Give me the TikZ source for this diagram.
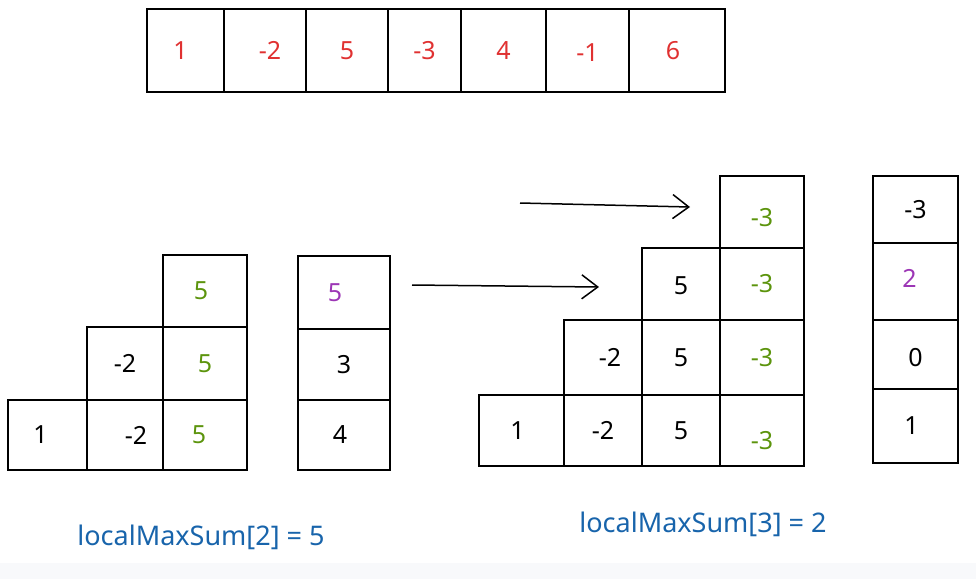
\documentclass[tikz,border=0pt]{standalone}
\usepackage{fontspec}
\setmainfont{Noto Sans}
\usetikzlibrary{arrows.meta}
\definecolor{cred}{HTML}{E03131}
\definecolor{cgreen}{HTML}{5C940D}
\definecolor{cpurple}{HTML}{9C36B5}
\definecolor{cblue}{HTML}{1864AB}
\definecolor{cstrip}{HTML}{F8F9FB}
\newcommand{\mycell}[7]{%
  \node[cell, minimum width={(#4-#2)*1pt}, minimum height={(#5-#3)*1pt}, text=#7]
    (#1) at ({(#2+#4)/2},{(#3+#5)/2}) {#6};}
\newcommand{\lowr}[2]{\raisebox{-#1pt}[\height][\depth]{#2}}
\tikzset{
  cell/.style={draw=black, line width=1.5pt, inner sep=0pt, font=\fontsize{25}{27}\selectfont},
  arr/.style={line width=1.5pt, -{Straight Barb[length=16pt,width=24pt,line width=1.5pt]}},
  lbl/.style={text=cblue, font=\fontsize{27}{29}\selectfont, inner sep=0pt}
}
\begin{document}
\begin{tikzpicture}[x=1pt,y=-1pt]
\path[use as bounding box] (0,0) rectangle (976,579);
\fill[cstrip] (0,563) rectangle (976,579);
% top array
\mycell{a1}{147}{9}{224}{92}{\hspace{-10pt}1}{cred}
\mycell{a2}{224}{9}{306}{92}{\hspace{10pt}-2}{cred}
\mycell{a3}{306}{9}{388}{92}{5}{cred}
\mycell{a4}{388}{9}{461}{92}{-3}{cred}
\mycell{a5}{461}{9}{546}{92}{4}{cred}
\mycell{a6}{546}{9}{629}{92}{\lowr{2}{-1}}{cred}
\mycell{a7}{629}{9}{725}{92}{\hspace{-8pt}6}{cred}
% left staircase
\mycell{l11}{8}{400}{87}{470}{\hspace{-14pt}1}{black}
\mycell{l12}{87}{400}{163}{470}{\hspace{22pt}-2}{black}
\mycell{l13}{163}{400}{247}{470}{\hspace{-12pt}5}{cgreen}
\mycell{l22}{87}{327}{163}{400}{-2}{black}
\mycell{l23}{163}{327}{247}{400}{5}{cgreen}
\mycell{l33}{163}{255}{247}{327}{\hspace{-8pt}5}{cgreen}
% left column
\mycell{c1}{298}{256}{390}{329}{\hspace{-18pt}5}{cpurple}
\mycell{c2}{298}{329}{390}{400}{3}{black}
\mycell{c3}{298}{400}{390}{470}{\hspace{-8pt}4}{black}
% arrows
\coordinate (s1) at (412,285);
\coordinate (e1) at (599,287);
\coordinate (s2) at (520,203);
\coordinate (e2) at (690,207);
\draw[arr] (s1) -- (e1);
\draw[arr] (s2) -- (e2);
% right staircase
\mycell{r11}{479}{395}{564}{466}{\hspace{-8pt}1}{black}
\mycell{r12}{564}{395}{642}{466}{-2}{black}
\mycell{r13}{642}{395}{720}{466}{5}{black}
\mycell{r14}{720}{395}{804}{466}{\lowr{10}{-3}}{cgreen}
\mycell{r22}{564}{320}{642}{395}{\hspace{14pt}-2}{black}
\mycell{r23}{642}{320}{720}{395}{5}{black}
\mycell{r24}{720}{320}{804}{395}{-3}{cgreen}
\mycell{r33}{642}{248}{720}{320}{\lowr{2}{5}}{black}
\mycell{r34}{720}{248}{804}{320}{-3}{cgreen}
\mycell{r44}{720}{176}{804}{248}{\lowr{6}{-3}}{cgreen}
% right column
\mycell{d1}{873}{176}{958}{243}{-3}{black}
\mycell{d2}{873}{243}{958}{320}{\hspace{-12pt}\raisebox{3pt}[\height][\depth]{2}}{cpurple}
\mycell{d3}{873}{320}{958}{389}{\lowr{3}{0}}{black}
\mycell{d4}{873}{389}{958}{463}{\hspace{-8pt}1}{black}
% labels
\node[lbl] (t1) at (201,537) {localMaxSum[2] = 5};
\node[lbl] (t2) at (703,524) {localMaxSum[3] = 2};
\end{tikzpicture}
\end{document}
